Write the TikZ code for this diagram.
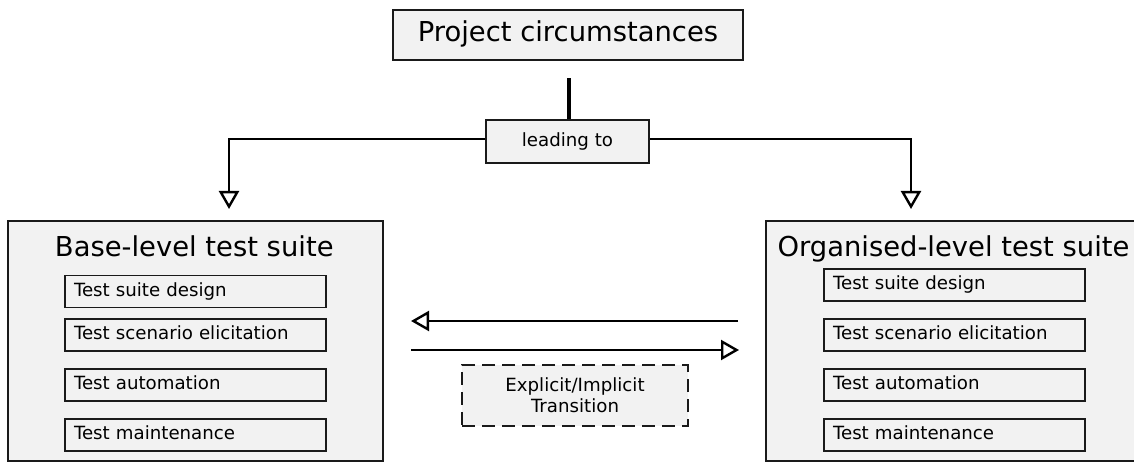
\documentclass[tikz,border=0pt]{standalone}
\usepackage{fontspec}
\setmainfont{DejaVu Sans}
\usetikzlibrary{arrows.meta}
\definecolor{boxgray}{HTML}{F2F2F2}
\definecolor{edgegray}{HTML}{1A1A1A}
\begin{document}
\begin{tikzpicture}[x=1pt,y=-1pt,
  bigfont/.style={font=\fontsize{27.4}{33}\selectfont, text height=20.5pt, text depth=6.9pt},
  smallfont/.style={font=\fontsize{18.2}{21}\selectfont},
  smallline/.style={smallfont, text height=13.7pt, text depth=4.6pt},
  box/.style={draw=edgegray, fill=boxgray, line width=2.6pt, inner sep=0pt},
  item/.style={draw=edgegray, fill=boxgray, line width=1.5pt, inner sep=0pt,
    minimum width=261pt, minimum height=32pt, text width=243pt, align=left, smallline},
  conn/.style={draw=black, line width=2.4pt},
  arr/.style={conn, -{Triangle[open,length=18pt,width=20pt,line width=2.4pt]}}]
\useasboundingbox (0,0) rectangle (1134,462);

% top box and the label below it
\node[box, minimum width=350pt, minimum height=50pt, bigfont] (pc) at (568,35) {Project circumstances};
\node[box, minimum width=163pt, minimum height=43pt, smallline] (lead) at (567.5,141.5) {leading to};
\draw[line width=3.6pt, shorten <=17pt] (pc.south -| 569,0) -- (lead.north -| 569,0);

% branches to the two suites
\coordinate (lc) at (229,139);
\coordinate (lt) at (229,209);
\coordinate (rc) at (911,139);
\coordinate (rt) at (911,209);
\draw[arr] (lead.west |- lc) -- (lc) -- (lt);
\draw[arr] (lead.east |- rc) -- (rc) -- (rt);

% base-level suite
\node[box, minimum width=375pt, minimum height=240pt] (base) at (195.5,341) {};
\node[anchor=base, font=\fontsize{27.4}{33}\selectfont] (bt) at (194.3,256.5) {Base-level test suite};
\node[item] (b1) at (195.5,291.5) {Test suite design};
\node[item] (b2) at (195.5,335) {Test scenario elicitation};
\node[item] (b3) at (195.5,385) {Test automation};
\node[item] (b4) at (195.5,435) {Test maintenance};

% organised-level suite
\node[box, minimum width=384pt, minimum height=240pt] (org) at (958,341) {};
\node[anchor=base, font=\fontsize{27.4}{33}\selectfont] (ot) at (953.5,256) {Organised-level test suite};
\node[item] (o1) at (954.5,285) {Test suite design};
\node[item] (o2) at (954.5,335) {Test scenario elicitation};
\node[item] (o3) at (954.5,385) {Test automation};
\node[item] (o4) at (954.5,435) {Test maintenance};

% transitions between the suites
\coordinate (ra) at (738,321);
\coordinate (la) at (411,321);
\coordinate (lb) at (411,350);
\coordinate (rb) at (739,350);
\draw[arr] (ra) -- (la);
\draw[arr] (lb) -- (rb);
\node[box, dash pattern=on 13pt off 7pt, minimum width=226pt, minimum height=61pt,
      align=center, smallfont] (tr) at (575,395.5) {Explicit/Implicit\\Transition};
\end{tikzpicture}
\end{document}
